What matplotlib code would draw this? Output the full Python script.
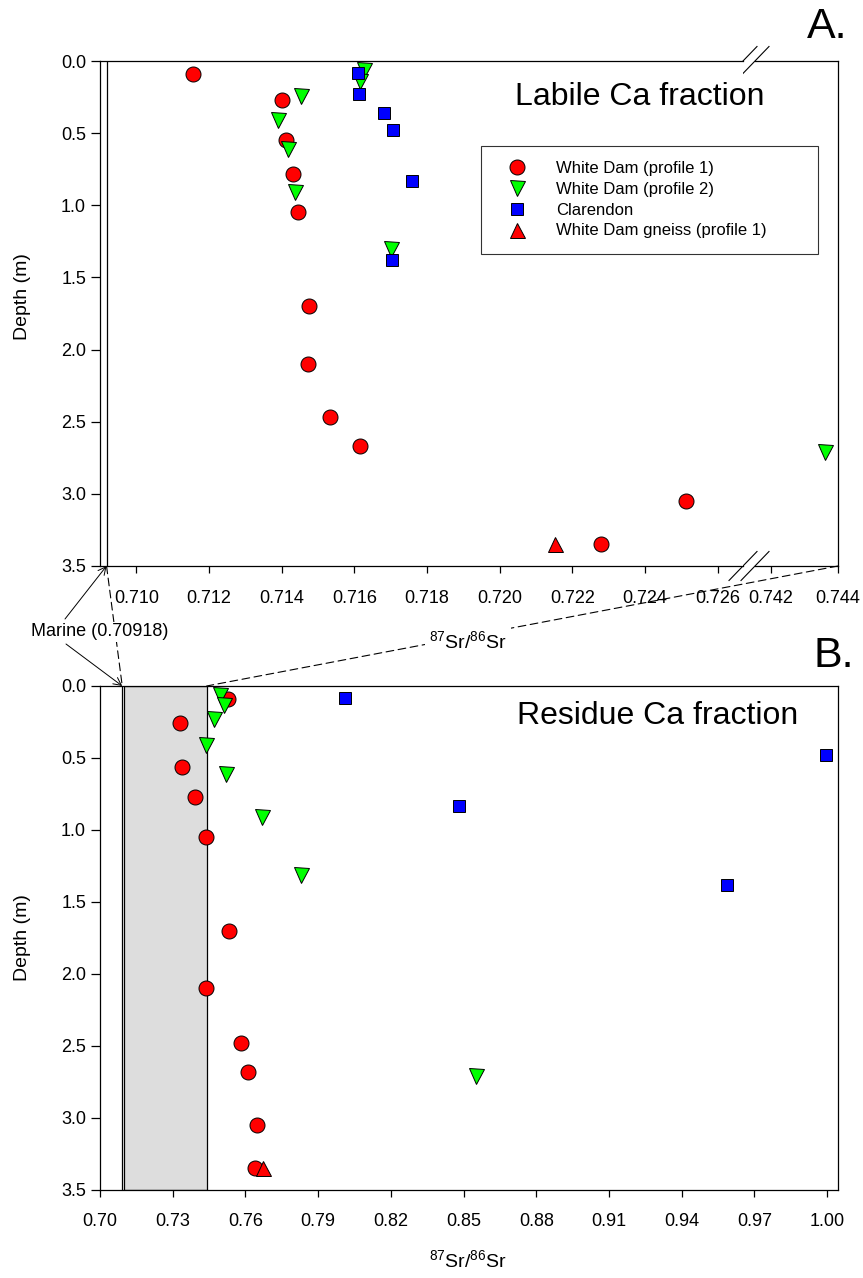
import matplotlib
matplotlib.use('Agg')
import matplotlib.pyplot as plt
from matplotlib.patches import ConnectionPatch
from matplotlib.lines import Line2D

plt.rcParams['font.family'] = ['Liberation Sans', 'DejaVu Sans']
plt.rcParams['mathtext.default'] = 'regular'

# ---------------- data ----------------
# Labile Ca fraction (panel A)
wd1_lab_sr = [0.71157, 0.71402, 0.71413, 0.71431, 0.71444, 0.71474, 0.71473, 0.71534, 0.71616, 0.72513, 0.72280]
wd1_lab_depth = [0.09, 0.27, 0.55, 0.78, 1.05, 1.70, 2.10, 2.47, 2.67, 3.05, 3.35]
wd2_lab_sr = [0.71628, 0.71617, 0.71454, 0.71390, 0.71417, 0.71438, 0.71702, 0.74362]
wd2_lab_depth = [0.06, 0.14, 0.24, 0.41, 0.61, 0.91, 1.30, 2.71]
cl_lab_sr = [0.71610, 0.71614, 0.71683, 0.71706, 0.71758, 0.71704]
cl_lab_depth = [0.08, 0.23, 0.36, 0.48, 0.83, 1.38]
gn_lab_sr = [0.72153]
gn_lab_depth = [3.35]

# Residue Ca fraction (panel B)
wd1_res_sr = [0.7527, 0.7329, 0.7340, 0.7393, 0.7439, 0.7531, 0.7439, 0.7581, 0.7610, 0.7647, 0.7640]
wd1_res_depth = [0.09, 0.26, 0.56, 0.77, 1.05, 1.70, 2.10, 2.48, 2.68, 3.05, 3.35]
wd2_res_sr = [0.7495, 0.7512, 0.7471, 0.7436, 0.7520, 0.7669, 0.7828, 0.8552]
wd2_res_depth = [0.06, 0.13, 0.23, 0.41, 0.61, 0.91, 1.31, 2.71]
cl_res_sr = [0.8009, 0.9995, 0.8483, 0.9587]
cl_res_depth = [0.08, 0.48, 0.83, 1.38]
gn_res_sr = [0.7674]
gn_res_depth = [3.35]

series_labels = ['White Dam (profile 1)', 'White Dam (profile 2)', 'Clarendon', 'White Dam gneiss (profile 1)']
marine_sr = 0.70918
box_range = (0.710, 0.744)

xticks_A_left = [0.710, 0.712, 0.714, 0.716, 0.718, 0.720, 0.722, 0.724, 0.726]
xticks_A_right = [0.742, 0.744]
xticks_B = [0.70, 0.73, 0.76, 0.79, 0.82, 0.85, 0.88, 0.91, 0.94, 0.97, 1.00]
yticks = [0.0, 0.5, 1.0, 1.5, 2.0, 2.5, 3.0, 3.5]

# ---------------- styles ----------------
st_wd1 = dict(marker='o', ms=10.8, mfc='#ff0000', mec='black', mew=0.7, ls='none')
st_wd2 = dict(marker='v', ms=10.8, mfc='#00ff00', mec='black', mew=0.7, ls='none')
st_cl = dict(marker='s', ms=9.0, mfc='#0000ff', mec='black', mew=0.7, ls='none')
st_gn = dict(marker='^', ms=10.8, mfc='#ff0000', mec='black', mew=0.7, ls='none')

W, H = 863, 1278
fig = plt.figure(figsize=(W / 100, H / 100), dpi=100)


def rect(l, t, r, b):
    return [l / W, 1 - b / H, (r - l) / W, (b - t) / H]


axL = fig.add_axes(rect(100, 61, 743, 566))
axR = fig.add_axes(rect(755, 61, 838, 566))
axB = fig.add_axes(rect(100, 686, 838, 1190))
axR.patch.set_visible(False)
axL.set_zorder(3)
axR.set_zorder(2)

for ax in (axL, axR, axB):
    for sp in ax.spines.values():
        sp.set_linewidth(0.9)
        sp.set_color('black')
    ax.set_ylim(3.5, 0.0)
    ax.tick_params(axis='x', direction='out', length=5, width=0.9, labelsize=13, pad=12.5)
    ax.tick_params(axis='y', direction='out', length=6.5, width=0.9, labelsize=13, pad=3.5)
axB.tick_params(axis='x', pad=11.5)

# ---------------- panel A ----------------
axL.set_xlim(0.709, 0.72670)
axR.set_xlim(0.74152, 0.744)
axL.spines['right'].set_visible(False)
axR.spines['left'].set_visible(False)
axR.tick_params(axis='y', left=False, labelleft=False)

for ax in (axL, axR):
    ax.axvline(marine_sr, color='black', lw=0.9, zorder=1)

axL.plot(wd1_lab_sr, wd1_lab_depth, label=series_labels[0], **st_wd1)
axL.plot(wd2_lab_sr, wd2_lab_depth, label=series_labels[1], **st_wd2)
axL.plot(cl_lab_sr, cl_lab_depth, label=series_labels[2], **st_cl)
axL.plot(gn_lab_sr, gn_lab_depth, label=series_labels[3], **st_gn)
axR.plot(wd2_lab_sr, wd2_lab_depth, **st_wd2)
for ax in (axL, axR):
    for ln in ax.lines[1:]:
        ln.set_clip_on(False)

axL.set_xticks(xticks_A_left)
axL.set_xticklabels([f'{v:.3f}' for v in xticks_A_left])
axR.set_xticks(xticks_A_right)
axR.set_xticklabels([f'{v:.3f}' for v in xticks_A_right])
axL.set_yticks(yticks)
axL.set_yticklabels([f'{v:.1f}' for v in yticks])

axL.set_ylabel('Depth (m)', fontsize=14)
axL.yaxis.set_label_coords((31 - 100) / 643, 1 - (297 - 61) / 505)

axL.text((515 - 100) / 643, 1 - (97 - 61) / 505, 'Labile Ca fraction', transform=axL.transAxes,
         fontsize=23, ha='left', va='center')

leg = axL.legend(loc='upper left', bbox_to_anchor=((481 - 100) / 643, 1 - (146 - 61) / 505,
                                                  (818 - 481) / 643, 0.0),
                 mode='expand', fontsize=12, frameon=True, fancybox=False, borderpad=0.9,
                 handlelength=2.5, handletextpad=1.1, labelspacing=0.35, borderaxespad=0)
leg.get_frame().set_edgecolor('black')
leg.get_frame().set_linewidth(0.8)

# axis-break marks
pL = axL.get_position()
pR = axR.get_position()
dx, dy = 14 / W, 14.5 / H
for yc in (pL.y0, pL.y1):
    for xc in (pL.x1, pR.x0):
        fig.add_artist(Line2D([xc - dx, xc + dx], [yc - dy, yc + dy], transform=fig.transFigure,
                              color='black', lw=0.8))

# ---------------- panel B ----------------
axB.set_xlim(0.70, 1.0045)
axB.axvspan(box_range[0], box_range[1], facecolor='#dddddd', edgecolor='black', lw=0.9, zorder=1)
axB.axvline(marine_sr, color='black', lw=0.9, zorder=1)
axB.plot(wd1_res_sr, wd1_res_depth, **st_wd1)
axB.plot(wd2_res_sr, wd2_res_depth, **st_wd2)
axB.plot(cl_res_sr, cl_res_depth, **st_cl)
axB.plot(gn_res_sr, gn_res_depth, **st_gn)
for ln in axB.lines[1:]:
    ln.set_clip_on(False)
axB.set_xticks(xticks_B)
axB.set_xticklabels([f'{v:.2f}' for v in xticks_B])
axB.set_yticks(yticks)
axB.set_yticklabels([f'{v:.1f}' for v in yticks])
axB.set_ylabel('Depth (m)', fontsize=14)
axB.yaxis.set_label_coords((31 - 100) / 738, 0.5)
axB.text((516.7 - 100) / 738, 1 - (716 - 686) / 504, 'Residue Ca fraction', transform=axB.transAxes,
         fontsize=23, ha='left', va='center')

# ---------------- connectors / annotations ----------------
dash = (0, (7, 4))
c1 = ConnectionPatch(xyA=(marine_sr, 3.5), coordsA=axL.transData,
                     xyB=(marine_sr, 0.0), coordsB=axB.transData,
                     color='black', lw=0.8, linestyle=dash, zorder=2)
c2 = ConnectionPatch(xyA=(box_range[1], 3.5), coordsA=axR.transData,
                     xyB=(box_range[1], 0.0), coordsB=axB.transData,
                     color='black', lw=0.8, linestyle=dash, zorder=2)
fig.add_artist(c1)
fig.add_artist(c2)

xl = r'$^{87}$Sr/$^{86}$Sr'
fig.text(468 / W, 1 - 641 / H, xl, fontsize=14, ha='center', va='center', zorder=5,
         bbox=dict(facecolor='white', edgecolor='none', pad=3))
fig.text(468 / W, 1 - 1260 / H, xl, fontsize=14, ha='center', va='center', zorder=5)

fig.text(100 / W, 1 - 632 / H, 'Marine (0.70918)', fontsize=13, ha='center', va='center', zorder=5,
         bbox=dict(facecolor='white', edgecolor='none', pad=1))
arrow = dict(arrowstyle='->', lw=0.7, color='black', mutation_scale=14, shrinkA=0, shrinkB=0)
axL.annotate('', xy=(marine_sr, 3.5), xycoords='data',
             xytext=(65 / W, 1 - 619 / H), textcoords='figure fraction', arrowprops=arrow,
             annotation_clip=False)
axB.annotate('', xy=(marine_sr, 0.0), xycoords='data',
             xytext=(66 / W, 1 - 644 / H), textcoords='figure fraction', arrowprops=arrow,
             annotation_clip=False)

fig.text(847 / W, 1 - 38.5 / H, 'A.', fontsize=31, ha='right', va='baseline')
fig.text(854 / W, 1 - 666.7 / H, 'B.', fontsize=31, ha='right', va='baseline')

fig.savefig('out.png', dpi=100, facecolor='white')
